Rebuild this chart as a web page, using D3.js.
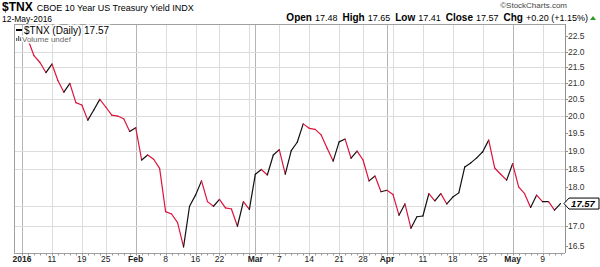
<!DOCTYPE html>
<html><head><meta charset="utf-8">
<script src="https://cdn.jsdelivr.net/npm/d3@7"></script>
<style>body{margin:0;background:#fff}svg{display:block;font-family:"Liberation Sans",Arial,sans-serif}</style>
</head><body><svg id="c" width="600" height="267"></svg>
<script>
// Trading days (2016)
const janDays=[4,5,6,7,8,11,12,13,14,15,19,20,21,22,25,26,27,28,29];
const febDays=[1,2,3,4,5,8,9,10,11,12,16,17,18,19,22,23,24,25,26,29];
const marDays=[1,2,3,4,7,8,9,10,11,14,15,16,17,18,21,22,23,24,28,29,30,31];
const aprDays=[1,4,5,6,7,8,11,12,13,14,15,18,19,20,21,22,25,26,27,28,29];
const mayDays=[2,3,4,5,6,9,10,11,12];
// $TNX daily closes
const closes=[22.45,22.40,21.87,21.65,21.33,21.60,21.08,20.72,20.99,20.40,
20.33,19.88,20.18,20.50,20.27,20.03,20.00,19.92,19.55,19.66,
18.74,18.88,18.76,18.51,17.36,17.30,17.08,16.48,17.50,17.79,
18.17,17.62,17.50,17.68,17.46,17.43,16.99,17.62,17.42,18.35,
18.48,18.33,18.88,19.03,18.35,19.00,19.24,19.77,19.64,19.61,
19.45,19.07,18.71,19.25,19.33,18.79,18.99,18.74,18.17,18.30,
17.88,17.92,17.81,17.27,17.56,16.94,17.23,17.25,17.83,17.64,
17.83,17.56,17.74,17.85,18.55,18.66,18.80,18.97,19.30,18.52,
18.35,18.19,18.64,18.01,17.83,17.47,17.79,17.62,17.62,17.40,17.57];
const yTickValues=[16.5,17.0,18.0,18.5,19.0,19.5,20.0,20.5,21.0,21.5,22.0,22.5];
const yGridValues=[17.0,17.5,18.5,19.0,20.0,20.5,21.0,21.5,22.0];
const xTickDates=["2016-01-04","2016-01-11","2016-01-19","2016-01-25","2016-02-01","2016-02-08","2016-02-16","2016-02-22","2016-03-01","2016-03-07","2016-03-14","2016-03-21","2016-03-28","2016-04-01","2016-04-11","2016-04-18","2016-04-25","2016-05-02","2016-05-09"];
const xTickLabels=["2016","11","19","25","Feb","8","16","22","Mar","7","14","21","28","Apr","11","18","25","May","9"];
const xTickBold=[true,false,false,false,true,false,false,false,true,false,false,false,false,true,false,false,false,true,false];
const lastClose=17.57, openV=17.48, highV=17.65, lowV=17.41, chg=0.20, chgPct=1.15;

const pad=n=>String(n).padStart(2,"0");
const dates=[janDays,febDays,marDays,aprDays,mayDays].flatMap((days,m)=>days.map(d=>`2016-${pad(m+1)}-${pad(d)}`));

const svg=d3.select("#c");
const L=14,T=24,R=565,B=253;
const x=d3.scaleLinear().domain([0,dates.length-1]).range([22,560.5]);
const y=d3.scaleLog().domain([16.33,22.92]).range([B,T]);

// vertical gridlines: weeks & months
const weekStarts=[],monthStarts=[];
dates.forEach((d,i)=>{
  const dt=new Date(d+"T00:00:00");
  if(i===0){weekStarts.push(i);monthStarts.push(i);return;}
  const pv=new Date(dates[i-1]+"T00:00:00");
  if(dt.getDay()<pv.getDay()||(dt-pv)>4*864e5) weekStarts.push(i);
  if(dt.getMonth()!==pv.getMonth()) monthStarts.push(i);
});
svg.append("g").selectAll("line").data(weekStarts).join("line")
  .attr("x1",i=>Math.round(x(i))+.5).attr("x2",i=>Math.round(x(i))+.5).attr("y1",T).attr("y2",B)
  .attr("stroke","#dcdcdc");
svg.append("g").selectAll("line").data(monthStarts).join("line")
  .attr("x1",i=>Math.round(x(i))+.5).attr("x2",i=>Math.round(x(i))+.5).attr("y1",T).attr("y2",B)
  .attr("stroke","#b4b4b4");
// horizontal gridlines
svg.append("g").selectAll("line").data(yGridValues).join("line")
  .attr("x1",L).attr("x2",R).attr("y1",v=>Math.round(y(v))+.5).attr("y2",v=>Math.round(y(v))+.5)
  .attr("stroke","#dcdcdc");

// frame
svg.append("line").attr("x1",L).attr("x2",R).attr("y1",T+.5).attr("y2",T+.5).attr("stroke","#a0a0a0");
svg.append("line").attr("x1",L+.5).attr("x2",L+.5).attr("y1",T).attr("y2",B).attr("stroke","#a0a0a0");
svg.append("line").attr("x1",L).attr("x2",R).attr("y1",B+.5).attr("y2",B+.5).attr("stroke","#a0a0a0");
svg.append("line").attr("x1",R+.5).attr("x2",R+.5).attr("y1",T).attr("y2",B).attr("stroke","#909090");

// price line, colored by day direction
svg.append("defs").append("clipPath").attr("id","pc").append("rect").attr("x",L).attr("y",T).attr("width",R-L).attr("height",B-T);
const segs=closes.slice(1).map((c,k)=>({a:k,b:k+1,down:c<closes[k]}));
const ln=d3.line().x(i=>x(i)).y(i=>y(closes[i]));
svg.append("g").attr("clip-path","url(#pc)").selectAll("path").data(segs).join("path")
  .attr("d",s=>ln([s.a,s.b])).attr("fill","none")
  .attr("stroke",s=>s.down?"#dc143c":"#111").attr("stroke-width",1.2).attr("stroke-linecap","round");

// x axis minor ticks and labels
svg.append("g").selectAll("line").data(dates.map((d,i)=>i)).join("line")
  .attr("x1",i=>Math.round(x(i))+.5).attr("x2",i=>Math.round(x(i))+.5).attr("y1",B).attr("y2",B+2.5)
  .attr("stroke","#999");
svg.append("g").selectAll("text").data(xTickDates).join("text")
  .attr("x",d=>x(dates.indexOf(d))).attr("y",262).attr("text-anchor","middle")
  .attr("font-size",8.5).attr("font-weight",(d,i)=>xTickBold[i]?"bold":"normal").attr("fill","#222")
  .text((d,i)=>xTickLabels[i]);

// right axis
svg.append("g").selectAll("line").data(yTickValues).join("line")
  .attr("x1",R).attr("x2",R+3).attr("y1",v=>Math.round(y(v))+.5).attr("y2",v=>Math.round(y(v))+.5).attr("stroke","#909090");
svg.append("g").selectAll("text").data(yTickValues).join("text")
  .attr("x",R+3).attr("y",v=>y(v)+3).attr("font-size",8.5).attr("fill","#333")
  .text(v=>v.toFixed(1));

// last price marker
const yl=y(lastClose);
svg.append("path").attr("d",`M${R-1},${yl} L${R+4},${yl-5.5} L599,${yl-5.5} L599,${yl+5.5} L${R+4},${yl+5.5} Z`)
  .attr("fill","#fff").attr("stroke","#000").attr("stroke-width",1);
svg.append("text").attr("x",583).attr("y",yl+3.5).attr("text-anchor","middle").attr("font-size",9.5)
  .attr("font-weight","bold").attr("font-style","italic").text(lastClose.toFixed(2));

// legend
const lg=svg.append("g");
lg.append("rect").attr("x",16).attr("y",29).attr("width",6).attr("height",2).attr("fill","#000");
lg.append("text").attr("x",24).attr("y",34).attr("font-size",10).attr("fill","#000")
  .attr("stroke","#fff").attr("stroke-width",3).attr("paint-order","stroke")
  .text(`$TNX (Daily) ${lastClose.toFixed(2)}`);
[[16,3],[18,5],[20,4]].forEach(([bx,h])=>lg.append("rect").attr("x",bx).attr("y",41-h).attr("width",1.3).attr("height",h).attr("fill","#666"));
lg.append("text").attr("x",22).attr("y",42).attr("font-size",8).attr("fill","#666")
  .attr("stroke","#fff").attr("stroke-width",3).attr("paint-order","stroke").text("Volume undef");

// header
const hd=svg.append("text").attr("x",2).attr("y",11).attr("fill","#000");
hd.append("tspan").attr("font-size",12).attr("font-weight","bold").text("$TNX");
hd.append("tspan").attr("font-size",9).attr("dx",4).text("CBOE 10 Year US Treasury Yield  INDX");
svg.append("text").attr("x",2).attr("y",22).attr("font-size",8.5).attr("fill","#000").text("12-May-2016");
svg.append("text").attr("x",567).attr("y",8).attr("text-anchor","end").attr("font-size",8).attr("fill","#444").text("©StockCharts.com");
const ohlc=svg.append("text").attr("x",588).attr("y",21).attr("text-anchor","end").attr("font-size",9).attr("fill","#000");
[["Open",openV.toFixed(2)],["High",highV.toFixed(2)],["Low",lowV.toFixed(2)],["Close",lastClose.toFixed(2)],["Chg",`+${chg.toFixed(2)} (+${chgPct.toFixed(2)}%)`]]
 .forEach(([k,v],i)=>{
   ohlc.append("tspan").attr("font-weight","bold").attr("font-size",10).attr("dx",i?5:0).text(k);
   ohlc.append("tspan").attr("dx",3).text(v);
 });
svg.append("path").attr("d","M590,20 L596,20 L593,16 Z").attr("fill","#2a9d2a");
</script></body></html>
